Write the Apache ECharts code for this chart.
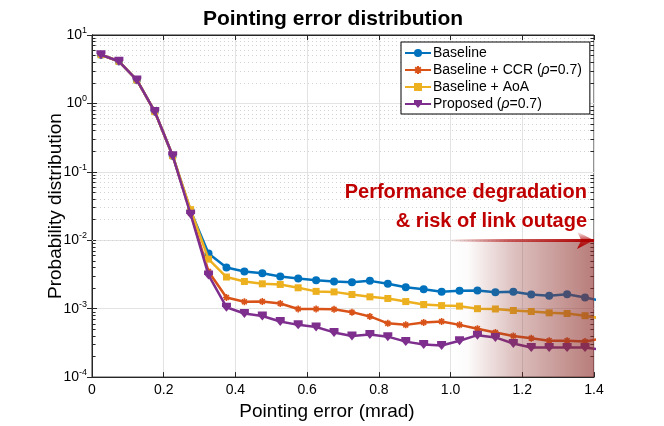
<!DOCTYPE html>
<html>
<head>
<meta charset="utf-8">
<script src="https://cdn.jsdelivr.net/npm/echarts@6/dist/echarts.min.js"></script>
<style>
  html, body { margin: 0; padding: 0; background: #fff; }
  #main { width: 664px; height: 426px; }
</style>
</head>
<body>
<div id="main"></div>
<script>
// pointing error (mrad), bin centres
var xs = [0.025, 0.075, 0.125, 0.175, 0.225, 0.275, 0.325, 0.375, 0.425, 0.475,
          0.525, 0.575, 0.625, 0.675, 0.725, 0.775, 0.825, 0.875, 0.925, 0.975,
          1.025, 1.075, 1.125, 1.175, 1.225, 1.275, 1.325, 1.375, 1.425];

var baseline = [5.15, 4.13, 2.2, 0.76, 0.172, 0.027, 0.0064, 0.0040, 0.0035, 0.0033,
                0.00295, 0.00277, 0.00261, 0.0025, 0.00244, 0.00255, 0.00231, 0.00205, 0.00192, 0.00177,
                0.00183, 0.00184, 0.00174, 0.00177, 0.00161, 0.00155, 0.00163, 0.00146, 0.00128];
var ccr = [5.15, 4.13, 2.2, 0.76, 0.172, 0.025, 0.0035, 0.00146, 0.00126, 0.00127,
           0.00119, 0.00099, 0.00099, 0.00098, 0.00089, 0.00077, 0.00061, 0.00058, 0.00063, 0.00065,
           0.00058, 0.00051, 0.00045, 0.00040, 0.00037, 0.00034, 0.00034, 0.00033, 0.00037];
var aoa = [5.15, 4.13, 2.2, 0.76, 0.172, 0.028, 0.0053, 0.0029, 0.0025, 0.00231,
           0.00226, 0.00202, 0.00179, 0.00176, 0.00161, 0.00149, 0.00141, 0.00127, 0.00115, 0.00111,
           0.00109, 0.00100, 0.00099, 0.00094, 0.00091, 0.00087, 0.00085, 0.00079, 0.00071];
var proposed = [5.15, 4.13, 2.2, 0.76, 0.172, 0.024, 0.0031, 0.00105, 0.00085, 0.00078,
                0.00065, 0.00058, 0.00054, 0.00045, 0.00040, 0.00042, 0.00039, 0.00033, 0.00030, 0.00029,
                0.00034, 0.00041, 0.00038, 0.00031, 0.00027, 0.00027, 0.00027, 0.00027, 0.00025];

var names = ['Baseline', 'Baseline + CCR (ρ=0.7)', 'Baseline + AoA', 'Proposed (ρ=0.7)'];
var colors = ['#0072BD', '#D95319', '#EDB120', '#7E2F8E'];
var decades = [-4, -3, -2, -1, 0];

var FONT = 'Liberation Sans';
var asterisk = 'path://M5,0 L5,10 M0,5 L10,5 M1.5,1.5 L8.5,8.5 M8.5,1.5 L1.5,8.5';
var shield = 'path://M0,0 L10,0 L10,4 L5,10 L0,4 Z';

function pairs(ys) {
    return xs.map(function (x, i) { return [x, ys[i]]; });
}

// dotted minor grid at 2..9 x 10^n, plus small inner ticks on both sides
var minorLines = [];
var minorTicks = [];
decades.forEach(function (d) {
    for (var k = 2; k <= 9; k++) {
        var v = k * Math.pow(10, d);
        minorLines.push({ yAxis: v });
        minorTicks.push([{ coord: [0, v] }, { coord: [0.01, v] }]);
        minorTicks.push([{ coord: [1.39, v] }, { coord: [1.4, v] }]);
    }
});

function mkSeries(i, data, symbol, size, border) {
    return {
        name: names[i],
        type: 'line',
        data: pairs(data),
        symbol: symbol,
        symbolSize: size,
        showSymbol: true,
        lineStyle: { width: 2.5, color: colors[i] },
        itemStyle: { color: colors[i], borderColor: colors[i], borderWidth: border },
        z: 3 + i
    };
}

var myChart = echarts.init(document.getElementById('main'));

var option = {
    animation: false,
    backgroundColor: '#fff',
    title: {
        text: 'Pointing error distribution',
        left: 328,
        top: 4,
        textAlign: 'center',
        textStyle: { fontFamily: FONT, fontSize: 21, fontWeight: 'bold', color: '#000' }
    },
    grid: {
        left: 92, right: 70, top: 35, bottom: 43,
        show: true, borderColor: '#262626', borderWidth: 1, backgroundColor: 'transparent'
    },
    legend: {
        data: names,
        z: 50,
        orient: 'vertical',
        left: 401,
        top: 42,
        itemWidth: 26,
        itemHeight: 10,
        itemGap: 3,
        padding: [4, 8, 3, 3],
        borderColor: '#000',
        borderWidth: 1,
        backgroundColor: '#fff',
        formatter: function (name) {
            return name.replace('ρ', '{i|ρ}');
        },
        textStyle: {
            fontFamily: FONT, fontSize: 14, color: '#000', padding: [0, 0, 0, -3],
            rich: { i: { fontFamily: FONT, fontSize: 14, fontStyle: 'italic', color: '#000' } }
        }
    },
    xAxis: [{
        type: 'value',
        min: 0, max: 1.4, interval: 0.2,
        name: 'Pointing error (mrad)',
        nameLocation: 'middle',
        nameGap: 22,
        nameTextStyle: { fontFamily: FONT, fontSize: 19, color: '#000', padding: [0, 32, 0, 0] },
        axisLine: { lineStyle: { color: '#262626' } },
        axisTick: { inside: true, length: 5, lineStyle: { color: '#262626' } },
        axisLabel: {
            fontFamily: FONT, fontSize: 14, color: '#000', margin: 6,
            formatter: function (v) { return v === 0 ? '0' : v.toFixed(1); }
        },
        splitLine: { show: true, lineStyle: { color: '#e3e3e3', width: 1 } }
    }, {
        type: 'value', position: 'top',
        min: 0, max: 1.4, interval: 0.2,
        axisLine: { show: true, lineStyle: { color: '#262626' } },
        axisTick: { inside: true, length: 5, lineStyle: { color: '#262626' } },
        axisLabel: { show: false },
        splitLine: { show: false }
    }],
    yAxis: [{
        type: 'log',
        logBase: 10,
        min: 1e-4, max: 10,
        name: 'Probability distribution',
        nameLocation: 'middle',
        nameGap: 27,
        nameMoveOverlap: false,
        nameTextStyle: { fontFamily: FONT, fontSize: 19, color: '#000' },
        axisLine: { lineStyle: { color: '#262626' } },
        axisTick: { inside: true, length: 5, lineStyle: { color: '#262626' } },
        axisLabel: {
            fontFamily: FONT, fontSize: 14, color: '#000', margin: 5,
            formatter: function (v) {
                var e = Math.round(Math.log10(v));
                return '{b|10}{e|' + e + '}';
            },
            rich: {
                b: { fontFamily: FONT, fontSize: 14, color: '#000' },
                e: { fontFamily: FONT, fontSize: 9, color: '#000', padding: [0, 0, 9, 0] }
            }
        },
        splitLine: { show: true, lineStyle: { color: '#e3e3e3', width: 1 } }
    }, {
        type: 'log', position: 'right',
        logBase: 10,
        min: 1e-4, max: 10,
        axisLine: { show: true, lineStyle: { color: '#262626' } },
        axisTick: { inside: true, length: 5, lineStyle: { color: '#262626' } },
        axisLabel: { show: false },
        splitLine: { show: false }
    }],
    series: [
        {
            name: 'grid',
            type: 'line',
            data: [],
            z: 1,
            silent: true,
            markLine: {
                z: 1,
                silent: true,
                symbol: 'none',
                label: { show: false },
                lineStyle: { color: '#d2d2d2', type: [1, 3], width: 1 },
                data: minorLines
            }
        },
        {
            name: 'ticks',
            type: 'line',
            data: [],
            z: 2,
            silent: true,
            markLine: {
                z: 2,
                silent: true,
                symbol: 'none',
                label: { show: false },
                lineStyle: { color: '#262626', type: 'solid', width: 1 },
                data: minorTicks
            }
        },
        mkSeries(0, baseline, 'circle', 8, 0),
        mkSeries(1, ccr, asterisk, 7, 1.6),
        mkSeries(2, aoa, 'rect', 7, 0),
        mkSeries(3, proposed, shield, 9, 0),
        {
            name: 'overlay',
            type: 'line',
            data: [],
            z: 10,
            silent: true,
            markArea: {
                z: 10,
                silent: true,
                itemStyle: {
                    color: new echarts.graphic.LinearGradient(0, 0, 1, 0, [
                        { offset: 0, color: 'rgba(140,45,40,0)' },
                        { offset: 0.12, color: 'rgba(140,45,40,0.02)' },
                        { offset: 0.45, color: 'rgba(140,45,40,0.3)' },
                        { offset: 1, color: 'rgba(140,45,40,0.62)' }
                    ])
                },
                data: [[{ xAxis: 1.0, yAxis: 1e-4 }, { xAxis: 1.4, yAxis: 0.0097 }]]
            },
            markLine: {
                z: 11,
                silent: true,
                symbol: ['none', 'arrow'],
                symbolSize: [13, 17],
                label: { show: false },
                lineStyle: {
                    width: 3, type: 'solid',
                    color: new echarts.graphic.LinearGradient(0, 0, 1, 0, [
                        { offset: 0, color: 'rgba(175,0,0,0)' },
                        { offset: 0.4, color: 'rgba(175,0,0,0.6)' },
                        { offset: 1, color: 'rgba(175,0,0,1)' }
                    ])
                },
                data: [[{ coord: [1.0, 0.01] }, { coord: [1.4, 0.01] }]]
            }
        }
    ],
    graphic: [
        {
            type: 'text', right: 77, top: 182, z: 100,
            style: {
                text: 'Performance degradation',
                font: 'bold 20px "Liberation Sans"',
                fill: '#c00000'
            }
        },
        {
            type: 'text', right: 77, top: 211, z: 100,
            style: {
                text: '& risk of link outage',
                font: 'bold 20px "Liberation Sans"',
                fill: '#c00000'
            }
        }
    ]
};
myChart.setOption(option);
</script>
</body>
</html>
